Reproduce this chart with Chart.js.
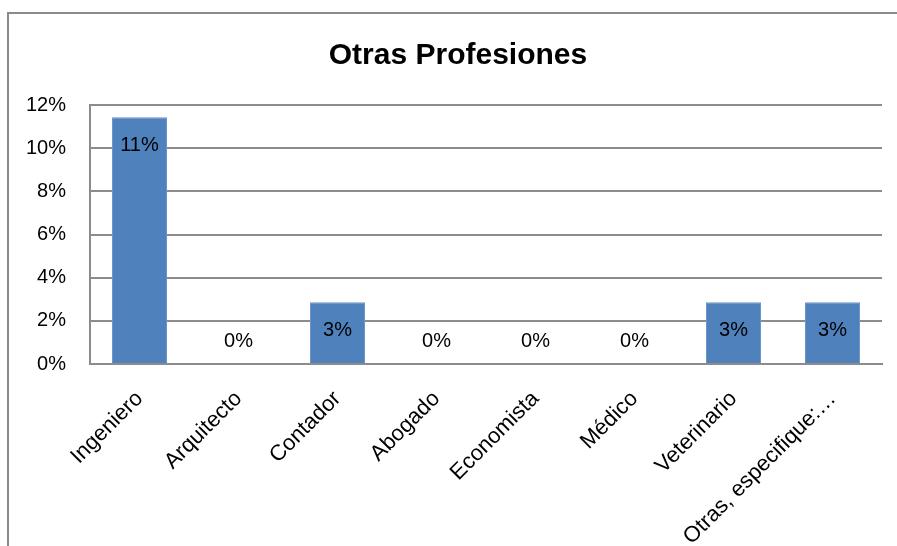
<!DOCTYPE html>
<html>
<head>
<meta charset="utf-8">
<script src="https://cdn.jsdelivr.net/npm/chart.js@4"></script>
<style>
  body { margin: 0; background: #fff; overflow: hidden; }
  #frame { position: absolute; left: 7px; top: 12px; width: 902px; height: 600px; border: 2px solid #8a8a8a; }
  #chart { position: absolute; left: 0; top: 0; }
</style>
</head>
<body>
<div id="frame"></div>
<canvas id="chart" width="897" height="546"></canvas>
<script>
// data
const categories = ['Ingeniero', 'Arquitecto', 'Contador', 'Abogado', 'Economista', 'Médico', 'Veterinario', 'Otras, especifique:…'];
const shares = [0.1143, 0, 0.0286, 0, 0, 0, 0.0286, 0.0286];
const yTicks = [0, 0.02, 0.04, 0.06, 0.08, 0.10, 0.12];
const chartTitle = 'Otras Profesiones';

const FONT = "'Liberation Sans', Arial, sans-serif";
const GRID = '#8c8c8c';

// title centred on the outer frame, not on the canvas
const frameTitle = {
    id: 'frameTitle',
    afterDraw(chart) {
        const ctx = chart.ctx;
        ctx.save();
        ctx.font = 'bold 30px ' + FONT;
        ctx.fillStyle = '#000';
        ctx.textAlign = 'center';
        ctx.textBaseline = 'middle';
        ctx.fillText(chartTitle, 458, 56);
        ctx.restore();
    }
};

// value labels like Excel "inside end"
const barLabels = {
    id: 'barLabels',
    afterDatasetsDraw(chart) {
        const ctx = chart.ctx;
        const meta = chart.getDatasetMeta(0);
        const base = chart.scales.y.getPixelForValue(0);
        ctx.save();
        ctx.font = '20px ' + FONT;
        ctx.fillStyle = '#000';
        ctx.textAlign = 'center';
        ctx.textBaseline = 'middle';
        meta.data.forEach((bar, i) => {
            const v = shares[i];
            const y = v > 0 ? bar.y + 28 : base - 23;
            ctx.fillText(Math.round(v * 100) + '%', bar.x, y);
        });
        ctx.restore();
    }
};

new Chart(document.getElementById('chart').getContext('2d'), {
    type: 'bar',
    data: {
        labels: categories,
        datasets: [{
            data: shares,
            backgroundColor: '#4f81bd',
            borderColor: '#6a96cc',
            borderWidth: 1,
            categoryPercentage: 1,
            barPercentage: 0.556
        }]
    },
    options: {
        responsive: false,
        animation: false,
        layout: { padding: { left: 0, right: 15, top: 105, bottom: 0 } },
        plugins: {
            legend: { display: false },
            tooltip: { enabled: false },
            title: { display: false }
        },
        scales: {
            x: {
                grid: { display: false, drawTicks: false },
                border: { display: true, color: GRID, width: 2 },
                ticks: {
                    color: '#000',
                    font: { family: FONT, size: 22 },
                    minRotation: 45,
                    maxRotation: 45,
                    padding: 22,
                    autoSkip: false
                },
                afterFit(s) { s.height = 182; }
            },
            y: {
                min: 0,
                max: 0.12,
                afterBuildTicks(s) { s.ticks = yTicks.map(v => ({ value: v })); },
                grid: { color: GRID, lineWidth: 2, drawTicks: false },
                border: { display: true, color: GRID, width: 2 },
                ticks: {
                    color: '#000',
                    font: { family: FONT, size: 20 },
                    padding: 24,
                    callback: v => Math.round(v * 100) + '%'
                },
                afterFit(s) { s.width = 90; }
            }
        }
    },
    plugins: [barLabels, frameTitle]
});
</script>
</body>
</html>
